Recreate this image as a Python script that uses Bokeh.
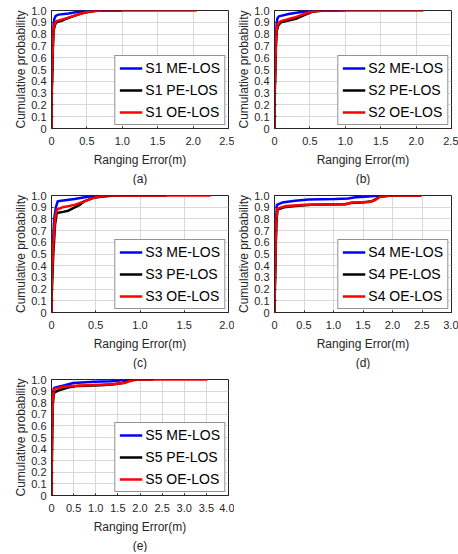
from bokeh.plotting import figure
from bokeh.layouts import column, row
from bokeh.models import Range1d, FixedTicker, Legend, LegendItem, Title
from bokeh.embed import file_html
from bokeh.resources import INLINE

FONT = "Liberation Sans"
TXT = "#262626"

# ---------------- data ----------------
y_ticks = [0, 0.1, 0.2, 0.3, 0.4, 0.5, 0.6, 0.7, 0.8, 0.9, 1.0]
y_tick_labels = ["0", "0.1", "0.2", "0.3", "0.4", "0.5", "0.6", "0.7", "0.8", "0.9", "1.0"]

x_ticks_25 = [0, 0.5, 1.0, 1.5, 2.0, 2.5]
x_labels_25 = ["0", "0.5", "1.0", "1.5", "2.0", "2.5"]
x_ticks_20 = [0, 0.5, 1.0, 1.5, 2.0]
x_labels_20 = ["0", "0.5", "1.0", "1.5", "2.0"]
x_ticks_30 = [0, 0.5, 1.0, 1.5, 2.0, 2.5, 3.0]
x_labels_30 = ["0", "0.5", "1.0", "1.5", "2.0", "2.5", "3.0"]
x_ticks_40 = [0, 0.5, 1.0, 1.5, 2.0, 2.5, 3.0, 3.5, 4.0]
x_labels_40 = ["0", "0.5", "1.0", "1.5", "2.0", "2.5", "3.0", "3.5", "4.0"]

series_names = ["ME-LOS", "PE-LOS", "OE-LOS"]
series_colors = ["#0000ff", "#000000", "#ff0000"]

# S1
s1_me_x = [0, 0, 0.01, 0.02, 0.03, 0.04, 0.06, 0.1, 0.24, 0.38, 0.5, 0.95]
s1_me_y = [0, 0.25, 0.5, 0.75, 0.88, 0.93, 0.955, 0.965, 0.975, 0.99, 1.0, 1.0]
s1_pe_x = [0, 0, 0.01, 0.02, 0.03, 0.05, 0.07, 0.17, 0.3, 0.45, 0.65, 1.0]
s1_pe_y = [0, 0.2, 0.45, 0.7, 0.83, 0.88, 0.9, 0.92, 0.95, 0.98, 1.0, 1.0]
s1_oe_x = [0, 0, 0.01, 0.02, 0.03, 0.05, 0.07, 0.24, 0.4, 0.52, 0.7, 2.05]
s1_oe_y = [0, 0.25, 0.5, 0.72, 0.85, 0.89, 0.91, 0.94, 0.97, 0.99, 1.0, 1.0]

# S2
s2_me_x = [0, 0, 0.01, 0.02, 0.03, 0.04, 0.06, 0.2, 0.4, 0.55, 1.0]
s2_me_y = [0, 0.25, 0.5, 0.75, 0.88, 0.93, 0.95, 0.97, 0.99, 1.0, 1.0]
s2_pe_x = [0, 0, 0.01, 0.02, 0.03, 0.05, 0.09, 0.3, 0.42, 0.54, 0.69, 0.9]
s2_pe_y = [0, 0.2, 0.45, 0.7, 0.82, 0.87, 0.9, 0.93, 0.96, 0.99, 1.0, 1.0]
s2_oe_x = [0, 0, 0.01, 0.02, 0.03, 0.05, 0.09, 0.28, 0.42, 0.52, 0.64, 2.1]
s2_oe_y = [0, 0.27, 0.5, 0.72, 0.84, 0.89, 0.91, 0.94, 0.97, 0.99, 1.0, 1.0]

# S3
s3_me_x = [0, 0, 0.01, 0.02, 0.03, 0.05, 0.07, 0.26, 0.41, 0.52, 0.62]
s3_me_y = [0, 0.25, 0.45, 0.65, 0.8, 0.9, 0.95, 0.97, 0.99, 1.0, 1.0]
s3_pe_x = [0, 0, 0.01, 0.02, 0.03, 0.04, 0.06, 0.13, 0.19, 0.24, 0.32, 0.37, 0.47, 0.56, 0.71, 1.3]
s3_pe_y = [0, 0.1, 0.3, 0.5, 0.62, 0.75, 0.85, 0.86, 0.87, 0.89, 0.92, 0.95, 0.98, 0.99, 1.0, 1.0]
s3_oe_x = [0, 0, 0.01, 0.02, 0.03, 0.04, 0.06, 0.13, 0.26, 0.37, 0.48, 0.6, 1.8]
s3_oe_y = [0, 0.2, 0.4, 0.58, 0.7, 0.8, 0.88, 0.9, 0.92, 0.95, 0.98, 1.0, 1.0]

# S4
s4_me_x = [0, 0, 0.01, 0.02, 0.03, 0.04, 0.13, 0.35, 0.58, 1.03, 1.25, 1.37, 1.53, 1.79, 1.95]
s4_me_y = [0, 0.1, 0.35, 0.6, 0.8, 0.92, 0.94, 0.955, 0.965, 0.97, 0.975, 0.985, 0.99, 1.0, 1.0]
s4_pe_x = [0, 0, 0.01, 0.02, 0.03, 0.05, 0.16, 0.35, 0.63, 1.2, 1.28, 1.48, 1.65, 1.79, 1.98, 2.49]
s4_pe_y = [0, 0.05, 0.3, 0.55, 0.75, 0.88, 0.9, 0.91, 0.92, 0.925, 0.935, 0.94, 0.95, 0.99, 1.0, 1.0]
s4_oe_x = [0, 0, 0.01, 0.02, 0.03, 0.05, 0.2, 0.52, 1.2, 1.32, 1.6, 1.7, 1.79, 1.98, 2.49]
s4_oe_y = [0, 0.08, 0.32, 0.58, 0.78, 0.89, 0.91, 0.92, 0.925, 0.94, 0.945, 0.96, 0.99, 1.0, 1.0]

# S5
s5_me_x = [0, 0, 0.01, 0.02, 0.03, 0.05, 0.07, 0.3, 0.49, 0.97, 1.35, 1.65, 1.8, 1.9]
s5_me_y = [0, 0.45, 0.6, 0.75, 0.87, 0.92, 0.93, 0.95, 0.97, 0.98, 0.985, 0.995, 1.0, 1.0]
s5_pe_x = [0, 0, 0.01, 0.02, 0.03, 0.05, 0.07, 0.19, 0.37, 0.6, 1.12, 1.42, 1.6, 1.76, 1.95, 2.3]
s5_pe_y = [0, 0.1, 0.35, 0.6, 0.78, 0.87, 0.89, 0.91, 0.93, 0.945, 0.95, 0.96, 0.97, 0.99, 1.0, 1.0]
s5_oe_x = [0, 0, 0.01, 0.02, 0.03, 0.05, 0.07, 0.26, 0.45, 0.82, 1.35, 1.65, 1.87, 3.52]
s5_oe_y = [0, 0.15, 0.4, 0.65, 0.82, 0.9, 0.92, 0.935, 0.945, 0.95, 0.96, 0.97, 1.0, 1.0]


def panel(idx, caption, curves, xmax, xticks, xlabels, width, bl, br, height, bt, bb):
    p = figure(width=width, height=height,
               x_range=Range1d(0, xmax), y_range=Range1d(0, 1),
               output_backend="svg", toolbar_location=None,
               min_border_left=bl, min_border_right=br,
               min_border_top=bt, min_border_bottom=bb)
    p.background_fill_color = "white"
    p.border_fill_color = "white"
    p.outline_line_color = TXT
    p.outline_line_width = 1
    p.grid.grid_line_color = "#d9d9d9"
    p.grid.grid_line_width = 1

    p.xaxis.ticker = FixedTicker(ticks=xticks)
    p.xaxis.major_label_overrides = dict(zip(xticks, xlabels))
    p.yaxis.ticker = FixedTicker(ticks=y_ticks)
    p.yaxis.major_label_overrides = dict(zip(y_ticks, y_tick_labels))
    p.xaxis.axis_label = "Ranging Error(m)"
    p.yaxis.axis_label = "Cumulative probability"
    for ax in (p.xaxis, p.yaxis):
        ax.axis_line_color = TXT
        ax.major_tick_line_color = TXT
        ax.major_tick_in = 2
        ax.major_tick_out = 0
        ax.minor_tick_line_color = None
        ax.major_label_text_font = FONT
        ax.major_label_text_font_size = "11px"
        ax.major_label_text_color = TXT
        ax.axis_label_text_font = FONT
        ax.axis_label_text_font_size = "12px"
        ax.axis_label_text_font_style = "normal"
        ax.axis_label_text_color = TXT
    p.xaxis.major_label_standoff = 8
    p.xaxis.axis_label_standoff = 5
    p.yaxis.major_label_standoff = 5
    p.yaxis.axis_label_standoff = 0

    items = []
    for (xs, ys), name, color in zip(curves, series_names, series_colors):
        r = p.line(xs, ys, line_color=color, line_width=2.5, line_join="round")
        items.append(LegendItem(label=f"S{idx} {name}", renderers=[r]))
    legend = Legend(items=items, location="bottom_right", margin=3,
                    label_text_font=FONT, label_text_font_size="14px",
                    label_text_color="#000000",
                    glyph_width=23, glyph_height=16, label_height=16,
                    label_standoff=3, spacing=6, padding=4,
                    border_line_color=TXT, border_line_width=1,
                    background_fill_color="white", background_fill_alpha=1)
    p.add_layout(legend)
    p.add_layout(Title(text=caption, align="center", text_font=FONT,
                       text_font_size="12px", text_font_style="normal",
                       text_color=TXT, standoff=0), "below")
    return p


LW, LBL, LBR = 234, 51, 6
RW, RBL, RBR = 224, 40, 7

pa = panel(1, "(a)", [(s1_me_x, s1_me_y), (s1_pe_x, s1_pe_y), (s1_oe_x, s1_oe_y)],
           2.5, x_ticks_25, x_labels_25, LW, LBL, LBR, 185, 10, 55)
pb = panel(2, "(b)", [(s2_me_x, s2_me_y), (s2_pe_x, s2_pe_y), (s2_oe_x, s2_oe_y)],
           2.5, x_ticks_25, x_labels_25, RW, RBL, RBR, 185, 10, 55)
pc = panel(3, "(c)", [(s3_me_x, s3_me_y), (s3_pe_x, s3_pe_y), (s3_oe_x, s3_oe_y)],
           2.0, x_ticks_20, x_labels_20, LW, LBL, LBR, 184, 10, 54)
pd = panel(4, "(d)", [(s4_me_x, s4_me_y), (s4_pe_x, s4_pe_y), (s4_oe_x, s4_oe_y)],
           3.0, x_ticks_30, x_labels_30, RW, RBL, RBR, 184, 10, 54)
pe = panel(5, "(e)", [(s5_me_x, s5_me_y), (s5_pe_x, s5_pe_y), (s5_oe_x, s5_oe_y)],
           4.0, x_ticks_40, x_labels_40, LW, LBL, LBR, 183, 10, 53)

root = column(row(pa, pb), row(pc, pd), row(pe))

with open("out.html", "w") as f:
    f.write(file_html(root, INLINE))
